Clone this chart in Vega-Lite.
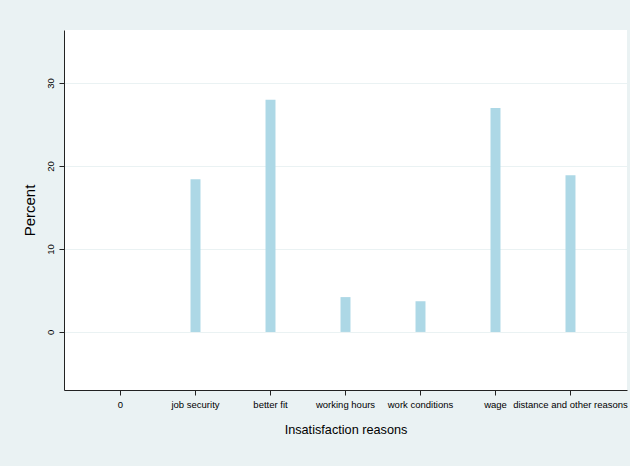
{
  "$schema": "https://vega.github.io/schema/vega-lite/v6.json",
  "autosize": {"type": "none"},
  "width": 563,
  "height": 360,
  "padding": {"left": 64, "top": 30, "right": 3, "bottom": 76},
  "background": "#eaf2f3",
  "config": {
    "font": "Liberation Sans",
    "view": {"fill": "white", "stroke": null}
  },
  "data": {
    "values": [
      {"reason": "0", "percent": 0},
      {"reason": "job security", "percent": 18.4},
      {"reason": "better fit", "percent": 28.0},
      {"reason": "working hours", "percent": 4.2},
      {"reason": "work conditions", "percent": 3.7},
      {"reason": "wage", "percent": 27.0},
      {"reason": "distance and other reasons", "percent": 18.9}
    ]
  },
  "mark": {"type": "bar", "color": "#add8e6"},
  "encoding": {
    "x": {
      "field": "reason",
      "type": "nominal",
      "sort": null,
      "scale": {"paddingInner": 0.867, "paddingOuter": 0.687},
      "axis": {
        "title": "Insatisfaction reasons",
        "titleFontSize": 12.7,
        "titleFontWeight": "normal",
        "titleColor": "#000",
        "titlePadding": 15,
        "labelAngle": 0,
        "labelFontSize": 9.5,
        "labelColor": "#000",
        "labelPadding": 4,
        "tickSize": 5,
        "tickColor": "#222",
        "domainColor": "#222",
        "labelOverlap": false,
        "grid": false
      }
    },
    "y": {
      "field": "percent",
      "type": "quantitative",
      "scale": {"domain": [-7, 36.4], "nice": false, "zero": false},
      "axis": {
        "title": "Percent",
        "titleFontSize": 15,
        "titleFontWeight": "normal",
        "titleColor": "#000",
        "titlePadding": 8,
        "values": [0, 10, 20, 30],
        "labelAngle": -90,
        "labelAlign": "center",
        "labelBaseline": "bottom",
        "labelFontSize": 9.5,
        "labelColor": "#000",
        "labelPadding": 4,
        "tickSize": 5,
        "tickColor": "#222",
        "domainColor": "#222",
        "gridColor": "#eaf2f3",
        "gridWidth": 1
      }
    }
  }
}
